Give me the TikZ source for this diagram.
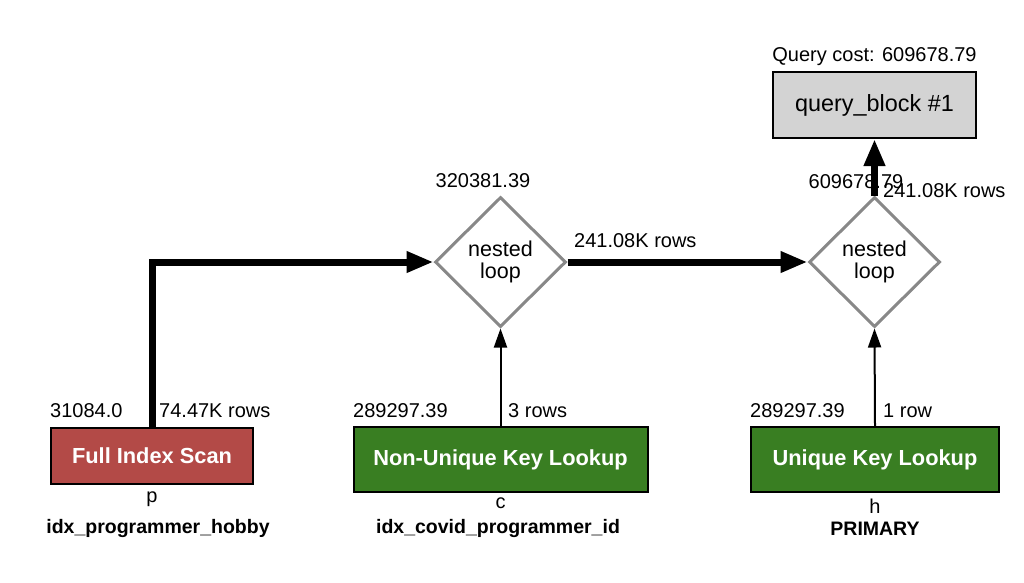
\documentclass[tikz,border=0pt]{standalone}
\usepackage{fontspec}
\setmainfont{Liberation Sans}
\usetikzlibrary{shapes.geometric,arrows.meta}
\definecolor{scanred}{RGB}{179,74,71}
\definecolor{lookgreen}{RGB}{57,126,34}
\definecolor{qbgray}{RGB}{211,211,211}
\definecolor{dgray}{RGB}{136,136,136}
\tikzset{
  opbox/.style={draw=black, line width=2pt, rectangle, inner sep=0pt, text=white,
    font=\fontsize{21.8}{24}\selectfont\bfseries},
  qbbox/.style={draw=black, line width=2pt, rectangle, inner sep=0pt, fill=qbgray,
    font=\fontsize{23.4}{26}\selectfont},
  loopnode/.style={draw=dgray, line width=3pt, diamond, inner sep=0pt,
    minimum width=131pt, minimum height=130pt, align=center,
    font=\fontsize{21.5}{22}\selectfont},
  lbl/.style={inner sep=0pt, font=\fontsize{20}{24}\selectfont},
  blbl/.style={inner sep=0pt, font=\fontsize{19.5}{24}\selectfont\bfseries},
  thickarrow/.style={line width=7pt, -{Triangle[length=27pt,width=20pt]}},
  thinarrow/.style={line width=2pt, -{Triangle[length=19pt,width=13pt]}},
}
\begin{document}
\begin{tikzpicture}[x=1pt,y=-1pt]
\useasboundingbox (0,0) rectangle (1024,582);
% nodes
\node[qbbox, minimum width=203pt, minimum height=66pt] (qb) at (874.5,105) {query\_block \#1};
\node[lbl, anchor=base] (qcost) at (874.5,61) {Query cost: 609678.79};
\node[loopnode] (nl1) at (500.5,262) {nested\\loop};
\node[loopnode] (nl2) at (874.5,262) {nested\\loop};
\node[opbox, fill=scanred, minimum width=202pt, minimum height=56pt] (fis) at (152,456) {Full Index Scan};
\node[opbox, fill=lookgreen, minimum width=294pt, minimum height=65pt] (nukl) at (500.5,459.5) {Non-Unique Key Lookup};
\node[opbox, fill=lookgreen, minimum width=248pt, minimum height=65pt] (ukl) at (875,459.5) {Unique Key Lookup};
% connectors
\draw[thickarrow] (fis.north) |- (nl1.west);
\draw[thickarrow] (nl1.east) -- (nl2.west);
\draw[thickarrow] (nl2.north) -- (qb.south);
\draw[thinarrow] (nukl.north) -- (nl1.south);
\draw[thinarrow] (ukl.north) -- (nl2.south);
% labels
\node[lbl, anchor=base] (c1) at (483,187) {320381.39};
\node[lbl, anchor=base] (c2) at (856,188) {609678.79};
\node[lbl, anchor=base west] (r2) at (883,197) {241.08K rows};
\node[lbl, anchor=base west] (r1) at (574,247) {241.08K rows};
\node[lbl, anchor=base west] (c3) at (50,417) {31084.0};
\node[lbl, anchor=base west] (r3) at (159,417) {74.47K rows};
\node[lbl, anchor=base west] (c4) at (353,417) {289297.39};
\node[lbl, anchor=base west] (r4) at (508,417) {3 rows};
\node[lbl, anchor=base west] (c5) at (750,417) {289297.39};
\node[lbl, anchor=base west] (r5) at (883,417) {1 row};
\node[lbl, anchor=base] (t1) at (152,502) {p};
\node[lbl, anchor=base] (t2) at (500.5,508) {c};
\node[lbl, anchor=base] (t3) at (875,513) {h};
\node[blbl, anchor=base] (i1) at (158,533) {idx\_programmer\_hobby};
\node[blbl, anchor=base] (i2) at (498,533) {idx\_covid\_programmer\_id};
\node[blbl, anchor=base] (i3) at (875,535) {PRIMARY};
\end{tikzpicture}
\end{document}
